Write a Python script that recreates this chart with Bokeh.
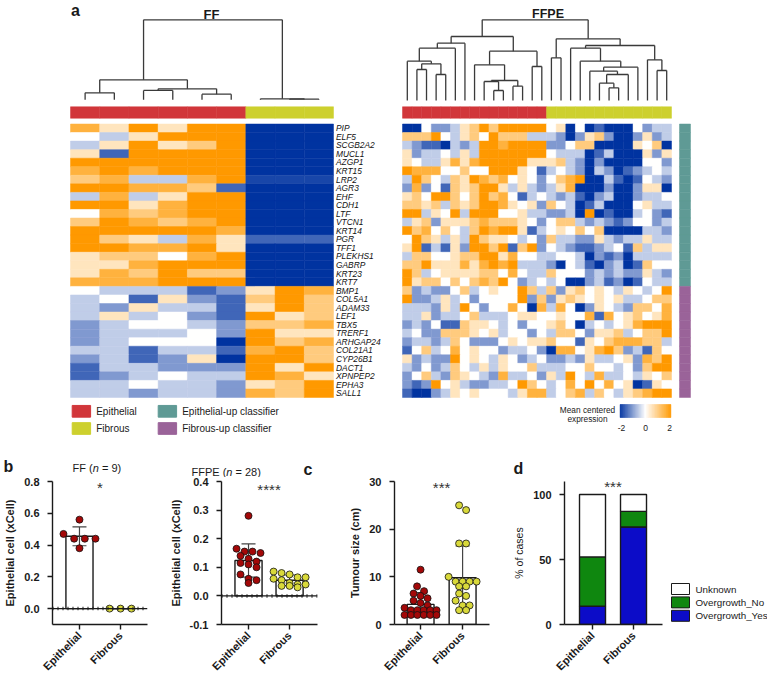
import numpy as np
from bokeh.plotting import figure
from bokeh.models import (Range1d, ColumnDataSource, LinearColorMapper, FixedTicker,
                          NumeralTickFormatter, Span)
from bokeh.layouts import column, row
from bokeh.embed import file_html
from bokeh.resources import INLINE
from bokeh.core.properties import value

FONT = "Liberation Sans"
INK = "#1a1a1a"

# ---------------------------------------------------------------- data
genes = ["PIP", "ELF5", "SCGB2A2", "MUCL1", "AZGP1", "KRT15", "LRP2", "AGR3", "EHF",
         "CDH1", "LTF", "VTCN1", "KRT14", "PGR", "TFF1", "PLEKHS1", "GABRP", "KRT23",
         "KRT7", "BMP1", "COL5A1", "ADAM33", "LEF1", "TBX5", "TRERF1", "ARHGAP24",
         "COL21A1", "CYP26B1", "DACT1", "XPNPEP2", "EPHA3", "SALL1"]
gene_class = ["Epithelial-up"] * 19 + ["Fibrous-up"] * 13
ff_groups = ["Epithelial"] * 6 + ["Fibrous"] * 3
ffpe_groups = ["Epithelial"] * 15 + ["Fibrous"] * 13

# expression level codes: '0'..'8' -> -2..2 (step 0.5), 'z' -> -1.8
ff_heat = ["758588000", "435888000", "358568000", "518888000", "888888000", "787888000",
           "673378zzz", "887761000", "373588000", "885788000", "476788000", "687678000",
           "888887000", "865375111", "887785000", "566478000", "557888000", "576866000",
           "777888000", "433312587", "341521686", "325331586", "353421856", "234432667",
           "233342855", "234440867", "331331786", "231250886", "133222858", "123433875",
           "334332568", "332332768"]
ffpe_heat = [
    "004223568688888" "4504010004233", "666843564866633" "3202562002523",
    "321103238878888" "2246600005460", "523343538888888" "4333013000525",
    "543357578888855" "5632020000442", "877744644888541" "3432032012343",
    "386436587674542" "4678003101432", "272416568853532" "3570002002550",
    "564886468674134" "3231023002334", "665636568875452" "6430130004533",
    "883548388844533" "2230801003421", "356255567666542" "4663232124423",
    "867464368788513" "4546460000332", "486535386554342" "6332253233533",
    "581315288681682" "4321123416355", "366445668857443" "3443021203333",
    "668555757878333" "2043102301644", "863455556647433" "6444232322532",
    "856646467684234" "3400231201433", "623224634544863" "6256454354348",
    "822353424444826" "2565454533466", "333253842447407" "3740254326647",
    "335233463334554" "4544717456457", "232411655434244" "5640343457888",
    "342266654534424" "3664255634668", "233236422245455" "6441546777663",
    "146347454423342" "0774578623164", "523228454354234" "2232533452768",
    "324236435354463" "3344644342688", "246326543273342" "5384373343546",
    "212845322334864" "3474847450154", "100235454443577" "3467364356788"]

# dendrogram linkages (scipy-like: new cluster id = n_leaves + merge index)
ff_link_left = [0, 2, 4, 10, 9, 7, 6, 13]
ff_link_right = [1, 3, 5, 11, 12, 8, 14, 15]
ff_link_height = [21, 28, 17, 33, 60, 2, 3, 240]
ffpe_link_left = [1, 3, 28, 0, 31, 32, 9, 8, 11, 35, 7, 13, 38, 33,
                  15, 21, 20, 44, 19, 46, 18, 17, 26, 25, 49, 42, 41]
ffpe_link_right = [2, 4, 29, 30, 5, 6, 10, 34, 12, 36, 37, 14, 39, 40,
                   16, 22, 43, 23, 45, 24, 47, 48, 27, 50, 51, 52, 53]
ffpe_link_height = [93, 78, 110, 118, 157, 172, 30, 57, 43, 60, 107, 102, 148, 192,
                    128, 38, 52, 78, 88, 100, 118, 157, 90, 122, 165, 185, 242]

categories = ["Epithelial", "Fibrous"]
ff_xcell_epi = [0.56, 0.47, 0.44, 0.44, 0.44, 0.38]
ff_xcell_fib = [0.0, 0.0, 0.0]
ffpe_xcell_epi = [0.28, 0.165, 0.155, 0.155, 0.15, 0.14, 0.13, 0.12, 0.115, 0.11,
                  0.10, 0.075, 0.06, 0.055, 0.045]
ffpe_xcell_fib = [0.085, 0.08, 0.075, 0.065, 0.065, 0.06, 0.055, 0.045, 0.04, 0.04,
                  0.035, 0.035, 0.03]
size_epi = [11.5, 8, 7, 6.5, 6, 5.5, 5, 4.5, 4, 3.5, 3, 3, 3, 3, 3, 2, 2, 2, 2, 2, 2]
size_fib = [25, 24, 17, 17, 10, 9, 9, 9, 9, 8, 8, 6.5, 6, 5, 4, 4, 3, 3]
overgrowth_labels = ["Overgrowth_Yes", "Overgrowth_No", "Unknown"]
overgrowth_yes = [14, 75]
overgrowth_no = [38, 12]
overgrowth_unknown = [48, 13]

# ---------------------------------------------------------------- styles
EPI_RED = "#d1363a"
FIB_YEL = "#cdd02e"
TEAL = "#5f9a95"
PURPLE = "#9a6399"
DOT_RED = "#a30808"
DOT_YEL = "#d9d93a"
BLUE_D = "#0c0cc8"
GREEN_D = "#0f870f"
group_color = {"Epithelial": EPI_RED, "Fibrous": FIB_YEL}
class_color = {"Epithelial-up": TEAL, "Fibrous-up": PURPLE}
over_colors = [BLUE_D, GREEN_D, "white"]

LEVEL = {str(d): (d - 4) / 2 for d in range(9)}
LEVEL["z"] = -1.8

BLUE = (0, 51, 160)
WHITE = (255, 255, 255)
ORANGE = (255, 153, 0)
pal = []
for t in np.linspace(-2, 2, 256):
    f = abs(t) / 2
    end = BLUE if t < 0 else ORANGE
    rgb = tuple(int(round(WHITE[i] * (1 - f) + end[i] * f)) for i in range(3))
    pal.append("#%02x%02x%02x" % rgb)
mapper = LinearColorMapper(palette=pal, low=-2, high=2)

TOP_H = 477
H_BOT = 681 - TOP_H
B_TOP, B_BOT = 4, 57          # common borders of the lower row (frames 481..624)
FRAME_H = H_BOT - B_TOP - B_BOT


def txt(p, x, y, s, size, style="normal", align="left", baseline="alphabetic", color=INK):
    p.text(x=[x], y=[y], text=[s], text_font=value(FONT), text_font_size=size,
           text_font_style=style, text_align=align, text_baseline=baseline,
           text_color=color)


# ---------------------------------------------------------------- panel a canvas
top = figure(width=767, height=TOP_H, x_range=Range1d(0, 767), y_range=Range1d(TOP_H, 0),
             output_backend="svg", toolbar_location=None, min_border=0,
             x_axis_location=None, y_axis_location=None)
top.grid.visible = False
top.outline_line_color = None
HY0, HY1 = 123.5, 397.0


def heatmap(rows, groups, x0, x1):
    nr, nc = len(rows), len(groups)
    cw = (x1 - x0) / nc
    rh = (HY1 - HY0) / nr
    xs, ys, vs = [], [], []
    for r, s in enumerate(rows):
        s = (s + "4" * nc)[:nc]
        for c, ch in enumerate(s):
            xs.append(x0 + (c + 0.5) * cw)
            ys.append(HY0 + (r + 0.5) * rh)
            vs.append(LEVEL.get(ch, 0.0))
    src = ColumnDataSource(dict(x=xs, y=ys, v=vs))
    top.rect("x", "y", width=cw, height=rh, source=src,
             fill_color={"field": "v", "transform": mapper},
             line_color={"field": "v", "transform": mapper}, line_width=0.5)
    gx = [x0 + (c + 0.5) * cw for c in range(nc)]
    gc = [group_color[g] for g in groups]
    top.rect(x=gx, y=[112] * nc, width=cw, height=11.5, fill_color=gc, line_color=gc,
             line_width=0.5)
    return gx


def dendrogram(left, right, heights, leaf_x, base_y, ppu):
    n = len(leaf_x)
    xs = {i: leaf_x[i] for i in range(n)}
    hs = {i: 0.0 for i in range(n)}
    x0, y0, x1, y1 = [], [], [], []
    for k, (a, b, h) in enumerate(zip(left, right, heights)):
        yh = base_y - h * ppu
        ya = base_y - hs[a] * ppu
        yb = base_y - hs[b] * ppu
        x0 += [xs[a], xs[b], xs[a]]
        y0 += [ya, yb, yh]
        x1 += [xs[a], xs[b], xs[b]]
        y1 += [yh, yh, yh]
        xs[n + k] = (xs[a] + xs[b]) / 2
        hs[n + k] = h
    top.segment(x0=x0, y0=y0, x1=x1, y1=y1, line_color="#3a3a3a", line_width=1.3)


ff_leaf = heatmap(ff_heat, ff_groups, 70, 333)
ffpe_leaf = heatmap(ffpe_heat, ffpe_groups, 402, 671)
dendrogram(ff_link_left, ff_link_right, ff_link_height, ff_leaf, 99.3, 1 / 3)
dendrogram(ffpe_link_left, ffpe_link_right, ffpe_link_height, ffpe_leaf, 100.0, 1 / 3)

rh = (HY1 - HY0) / len(genes)
gy = [HY0 + (i + 0.5) * rh for i in range(len(genes))]
top.text(x=[335.5] * len(genes), y=gy, text=genes, text_font=value(FONT),
         text_font_size="8.4px", text_font_style="italic", text_baseline="middle",
         text_align="left", text_color="#111111")
cc = [class_color[c] for c in gene_class]
top.rect(x=[684.5] * len(genes), y=gy, width=11, height=rh, fill_color=cc, line_color=cc,
         line_width=0.5)

txt(top, 70.5, 10, "a", "16px", "bold")
txt(top, 211, 13.5, "FF", "13px", "bold", align="center")
txt(top, 547.5, 13.5, "FFPE", "12.5px", "bold", align="center")

# colour bar
cb_vals = list(np.linspace(-2, 2, 80))
cb_x0, cb_x1 = 619.5, 670.5
cbw = (cb_x1 - cb_x0) / len(cb_vals)
cb_src = ColumnDataSource(dict(x=[cb_x0 + (i + 0.5) * cbw for i in range(len(cb_vals))],
                               y=[410.5] * len(cb_vals), v=cb_vals))
top.rect("x", "y", width=cbw, height=13, source=cb_src,
         fill_color={"field": "v", "transform": mapper},
         line_color={"field": "v", "transform": mapper}, line_width=0.4)
for tv in [-2, 0, 2]:
    txt(top, 621 + (tv + 2) / 4 * 48, 427, str(tv), "8.5px", align="center")
txt(top, 587, 409, "Mean centered", "8.3px", align="center")
txt(top, 587, 418.5, "expression", "8.3px", align="center")

leg_items = [("Epithelial", EPI_RED, 71.7, 410.8), ("Fibrous", FIB_YEL, 71.7, 428),
             ("Epithelial-up classifier", TEAL, 157.7, 410.8),
             ("Fibrous-up classifier", PURPLE, 157.7, 428)]
for lbl, col, lx, ly in leg_items:
    top.rect(x=[lx + 9.2], y=[ly], width=18.4, height=11.7, fill_color=col, line_color=col)
    txt(top, lx + 24, ly, lbl, "10px", baseline="middle")

# panel titles of the lower row (drawn on the upper canvas)
txt(top, 3, 466, "b", "16px", "bold")
txt(top, 72, 467.5, "FF (", "11px")
txt(top, 92.2, 467.5, "n", "11px", "italic")
txt(top, 101.4, 467.5, "= 9)", "11px")
txt(top, 191, 471, "FFPE (", "11px")
txt(top, 225.8, 471, "n", "11px", "italic")
txt(top, 235, 471, "= 28)", "11px")
txt(top, 303, 469, "c", "16px", "bold")
txt(top, 513, 468, "d", "16px", "bold")

# ---------------------------------------------------------------- bottom panels


def swarm(vals, pxx, pxy, spacing, tol=6.0, max_half=16.0):
    vals = np.asarray(vals, float)
    order = np.argsort(-vals, kind="stable")
    rows = []
    for i in order:
        if rows and abs(vals[i] - rows[-1][0]) * pxy < tol:
            rows[-1][1].append(i)
        else:
            rows.append([vals[i], [i]])
    off = np.zeros(len(vals))
    for _, idx in rows:
        k = len(idx)
        step = spacing
        if k > 1 and (k - 1) * spacing / 2 > max_half:
            step = 2 * max_half / (k - 1)
        for j, i in enumerate(idx):
            off[i] = (j - (k - 1) / 2) * step / pxx
    return off


def base_fig(w, left, right, xr, yr, yticks, fmt, ylabel, bold_label=True):
    p = figure(width=w, height=H_BOT, x_range=Range1d(*xr), y_range=Range1d(*yr),
               output_backend="svg", toolbar_location=None, min_border_left=left,
               min_border_right=right, min_border_top=B_TOP, min_border_bottom=B_BOT)
    p.grid.visible = False
    p.outline_line_color = None
    for ax in (p.xaxis[0], p.yaxis[0]):
        ax.axis_line_color = INK
        ax.axis_line_width = 1.4
        ax.major_tick_line_color = INK
        ax.major_tick_line_width = 1.4
        ax.major_tick_out = 5
        ax.major_tick_in = 0
        ax.minor_tick_line_color = None
        ax.major_label_text_font = FONT
        ax.major_label_text_font_size = "11px"
        ax.major_label_text_font_style = "bold"
        ax.major_label_text_color = INK
    p.yaxis.ticker = FixedTicker(ticks=yticks)
    p.yaxis.formatter = NumeralTickFormatter(format=fmt)
    p.yaxis.major_label_standoff = 8
    p.yaxis.axis_label = ylabel
    p.yaxis.axis_label_text_font = FONT
    p.yaxis.axis_label_text_font_size = "11px" if bold_label else "10.5px"
    p.yaxis.axis_label_text_font_style = "bold" if bold_label else "normal"
    p.yaxis.axis_label_text_color = INK
    p.yaxis.axis_label_standoff = 5
    p.xaxis.ticker = FixedTicker(ticks=[0, 1])
    p.xaxis.major_label_overrides = {0: categories[0], 1: categories[1]}
    p.xaxis.major_label_orientation = np.pi / 4
    p.xaxis.major_label_standoff = 4
    return p


def scatter_bars(p, groups, colors, bar_w, spacing, frame_w, zero_line=False):
    xr = p.x_range.end - p.x_range.start
    yr = p.y_range.end - p.y_range.start
    pxx, pxy = frame_w / xr, FRAME_H / yr
    means = [float(np.mean(g)) for g in groups]
    sds = [float(np.std(g, ddof=1)) for g in groups]
    xs = [0, 1]
    if zero_line:
        p.add_layout(Span(location=0, dimension="width", line_color=INK, line_width=1.3))
        p.add_layout(Span(location=0, dimension="width", line_color=INK, line_width=3.5,
                          line_dash="1 4"))
    p.vbar(x=xs, top=means, bottom=0, width=bar_w, fill_color="white", line_color=INK,
           line_width=1.4)
    lo = [m - s for m, s in zip(means, sds)]
    hi = [m + s for m, s in zip(means, sds)]
    cap = 7 / pxx
    p.segment(x0=xs, y0=lo, x1=xs, y1=hi, line_color="#444", line_width=1.2)
    p.segment(x0=[x - cap for x in xs], y0=hi, x1=[x + cap for x in xs], y1=hi,
              line_color="#444", line_width=1.2)
    p.segment(x0=[x - cap for x in xs], y0=lo, x1=[x + cap for x in xs], y1=lo,
              line_color="#444", line_width=1.2)
    for x, g, col in zip(xs, groups, colors):
        off = swarm(g, pxx, pxy, spacing)
        p.scatter(x=list(x + off), y=list(g), size=7, fill_color=col, line_color="#111",
                  line_width=0.8)


def stars(p, y, s):
    p.text(x=[0.5], y=[y], text=[s], text_font=value(FONT), text_font_size="15px",
           text_align="center", text_baseline="middle", text_color="#333")


b1 = base_fig(163, 52, 16, (-0.657, 1.657), (-0.1, 0.8),
              [0.0, 0.2, 0.4, 0.6, 0.8], "0.0", "Epithelial cell (xCell)")
scatter_bars(b1, [ff_xcell_epi, ff_xcell_fib], [DOT_RED, DOT_YEL], 0.66, 11, 95,
             zero_line=True)
stars(b1, 0.761, "*")

b2 = base_fig(167, 58, 13, (-0.658, 1.68), (-0.1, 0.4),
              [-0.1, 0.0, 0.1, 0.2, 0.3, 0.4], "0.0", "Epithelial cell (xCell)")
scatter_bars(b2, [ffpe_xcell_epi, ffpe_xcell_fib], [DOT_RED, DOT_YEL], 0.66, 8, 96,
             zero_line=True)
stars(b2, 0.372, "****")

c = base_fig(175, 64, 16, (-0.62, 1.64), (0, 30), [0, 10, 20, 30], "0",
             "Tumour size (cm)")
scatter_bars(c, [size_epi, size_fib], [DOT_RED, DOT_YEL], 0.64, 7, 95)
stars(c, 28.7, "***")

d = base_fig(159, 59, 2, (-0.683, 1.707), (0, 110), [0, 50, 100], "0",
             "% of cases", bold_label=False)
dsrc = ColumnDataSource(dict(x=[0, 1], yes=overgrowth_yes, no=overgrowth_no,
                             unk=overgrowth_unknown))
d.vbar_stack(["yes", "no", "unk"], x="x", width=0.634, source=dsrc,
             fill_color=over_colors, line_color=INK, line_width=1.4)
stars(d, 106.2, "***")

# legend of panel d: small canvas whose frame spans the same rows (y 481..624)
LEG_X0 = 163 + 167 + 175 + 159
leg = figure(width=767 - LEG_X0, height=H_BOT, x_range=Range1d(LEG_X0, 767),
             y_range=Range1d(481 + FRAME_H, 481), output_backend="svg",
             toolbar_location=None, min_border_left=0, min_border_right=0,
             min_border_top=B_TOP, min_border_bottom=B_BOT,
             x_axis_location=None, y_axis_location=None)
leg.grid.visible = False
leg.outline_line_color = None
n_leg = len(overgrowth_labels)
for k in range(n_leg):
    i = n_leg - 1 - k  # Unknown on top
    yc = 588.5 + k * 13.4
    leg.rect(x=[680], y=[yc], width=18, height=11, fill_color=over_colors[i],
             line_color=INK, line_width=1.0)
    txt(leg, 695, yc, overgrowth_labels[i], "9.8px", baseline="middle")

layout = column(top, row(b1, b2, c, d, leg))
open("out.html", "w").write(file_html(layout, INLINE))
